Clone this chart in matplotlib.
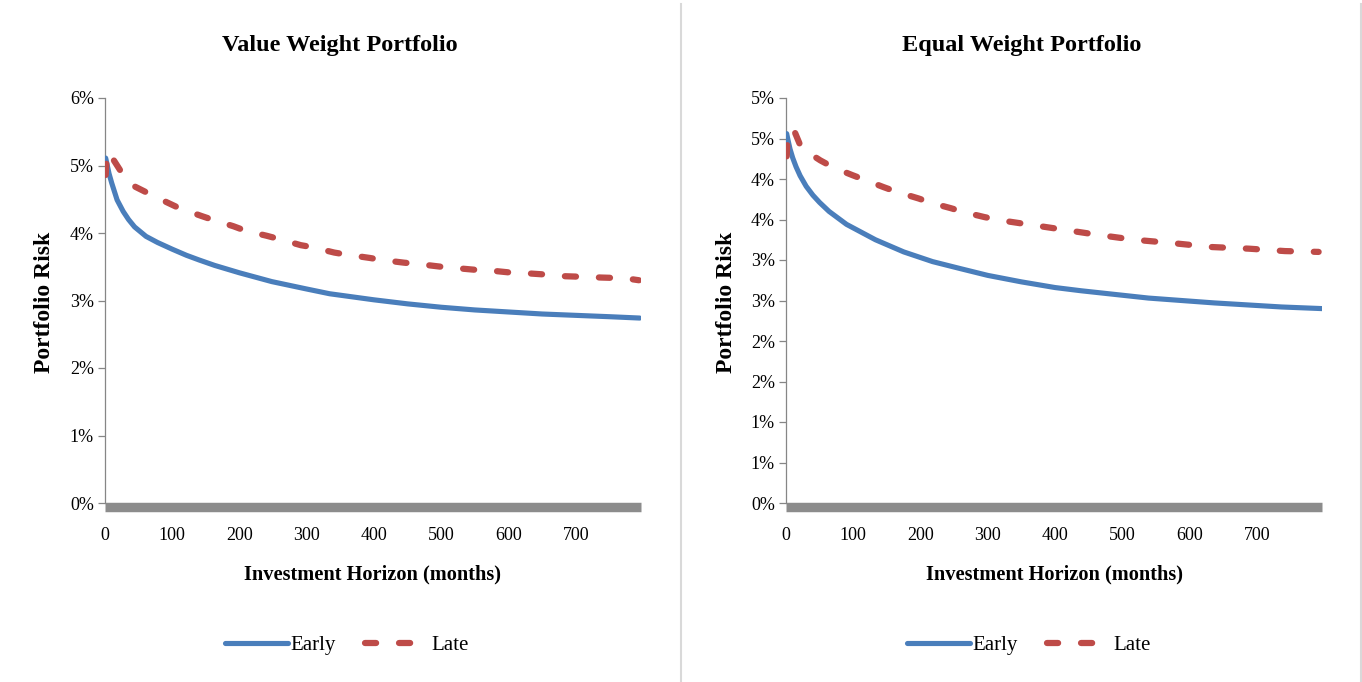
import numpy as np
import matplotlib
matplotlib.use("Agg")
import matplotlib.pyplot as plt
import matplotlib.transforms as mtransforms
from matplotlib.ticker import FuncFormatter, MultipleLocator
from matplotlib.lines import Line2D

plt.rcParams['font.family'] = ['Liberation Serif', 'DejaVu Serif']
plt.rcParams['lines.scale_dashes'] = False

# ---------------- data (portfolio risk, %) ----------------
titles = ["Value Weight Portfolio", "Equal Weight Portfolio"]
series_names = ["Early", "Late"]
x_ticks = [0, 100, 200, 300, 400, 500, 600, 700]

vw_early_months = [1, 3, 6, 10, 18, 27, 35, 44, 61, 78, 100, 121, 140, 163, 200, 248, 300, 334,
                   400, 450, 500, 550, 600, 650, 700, 750, 795]
vw_early_risk = [5.11, 5.02, 4.88, 4.74, 4.49, 4.32, 4.20, 4.09, 3.95, 3.86, 3.76, 3.67, 3.60,
                 3.52, 3.41, 3.28, 3.17, 3.10, 3.01, 2.95, 2.90, 2.86, 2.83, 2.80, 2.78, 2.76, 2.74]

vw_late_months = [1, 3, 11, 27, 44, 68, 93, 110, 144, 162, 191, 210, 240, 259, 291, 308, 341,
                  359, 394, 412, 445, 466, 500, 522, 556, 577, 607, 632, 662, 683, 713, 738,
                  773, 794]
vw_late_risk = [4.86, 5.20, 5.11, 4.86, 4.69, 4.57, 4.45, 4.37, 4.25, 4.19, 4.10, 4.03, 3.96,
                3.91, 3.82, 3.79, 3.71, 3.68, 3.63, 3.60, 3.56, 3.54, 3.50, 3.48, 3.45, 3.44,
                3.41, 3.40, 3.38, 3.36, 3.35, 3.34, 3.33, 3.30]

ew_early_months = [1, 3, 6, 10, 15, 21, 30, 40, 50, 64, 90, 133, 175, 218, 261, 300, 350, 400,
                   439, 539, 637, 737, 797]
ew_early_risk = [4.56, 4.48, 4.37, 4.26, 4.15, 4.04, 3.91, 3.80, 3.71, 3.60, 3.44, 3.25, 3.10,
                 2.98, 2.89, 2.81, 2.73, 2.66, 2.62, 2.53, 2.47, 2.42, 2.40]

ew_late_months = [1, 3, 13, 23, 51, 71, 98, 120, 145, 165, 197, 218, 245, 265, 295, 319, 400,
                  464, 518, 573, 633, 688, 742, 792]
ew_late_risk = [4.28, 4.60, 4.58, 4.38, 4.23, 4.14, 4.05, 3.98, 3.90, 3.84, 3.76, 3.70, 3.64,
                3.59, 3.53, 3.49, 3.39, 3.31, 3.25, 3.21, 3.16, 3.14, 3.11, 3.10]

panels = [
    (titles[0], vw_early_months, vw_early_risk, vw_late_months, vw_late_risk, 6.0, 1.0),
    (titles[1], ew_early_months, ew_early_risk, ew_late_months, ew_late_risk, 5.0, 0.5),
]

# ---------------- styling ----------------
W, H = 1362, 682
fig = plt.figure(figsize=(W / 100, H / 100), dpi=100)
blue = '#4a7ebb'
red = '#be4b48'
gray_axis = '#868686'
blue_lw, red_lw = 3.7, 4.5
red_dashes = (8, 16.5)

axes_px = [(105, 641), (786, 1322)]
chart_centers = [340, 1022]
top_px, bottom_px = 98, 503

def pct_fmt(v, pos):
    return f"{int(np.floor(v + 0.5 + 1e-9))}%"

for i, (title, em, er, lm, lr, ymax, ystep) in enumerate(panels):
    x0, x1 = axes_px[i]
    ax = fig.add_axes([x0 / W, 1 - bottom_px / H, (x1 - x0) / W, (bottom_px - top_px) / H])
    ax.plot(em, er, color=blue, lw=blue_lw, solid_capstyle='round', solid_joinstyle='round',
            label=series_names[0], zorder=3)
    ax.plot(lm, lr, color=red, lw=red_lw, dash_capstyle='round', dash_joinstyle='round',
            dashes=red_dashes, label=series_names[1], zorder=3)
    ax.set_xlim(0, 797)
    ax.set_ylim(0, ymax)
    ax.yaxis.set_major_locator(MultipleLocator(ystep))
    ax.yaxis.set_major_formatter(FuncFormatter(pct_fmt))
    ax.set_xticks(x_ticks)
    ax.set_xticklabels([str(t) for t in x_ticks])

    for s in ['top', 'right', 'bottom']:
        ax.spines[s].set_visible(False)
    ax.spines['left'].set_color(gray_axis)
    ax.spines['left'].set_linewidth(0.9)

    # thick gray zero bar
    trans = mtransforms.offset_copy(ax.transData, fig=fig, x=0, y=-3.5, units='dots')
    ax.plot([0, 797], [0, 0], color='#8c8c8c', lw=6.8, solid_capstyle='butt',
            transform=trans, clip_on=False, zorder=2)

    ax.tick_params(axis='y', direction='out', length=5, width=0.9, color=gray_axis,
                   labelsize=13, pad=3, labelcolor='black')
    ax.tick_params(axis='x', length=0, labelsize=13, pad=17, labelcolor='black')

    ax.set_xlabel("Investment Horizon (months)", fontsize=14.7, fontweight='bold', labelpad=15)
    fig.text((x0 - 60) / W, 1 - 302 / H, "Portfolio Risk", rotation=90, fontsize=17,
             fontweight='bold', ha='center', va='center')
    fig.text(chart_centers[i] / W, 1 - 45 / H, title, fontsize=17.5, fontweight='bold',
             ha='center', va='center')

    handles = [Line2D([], [], color=blue, lw=blue_lw, solid_capstyle='round'),
               Line2D([], [], color=red, lw=red_lw, dash_capstyle='round', dashes=red_dashes)]
    fig.legend(handles, series_names, loc='center', ncol=2,
               bbox_to_anchor=(chart_centers[i] / W + 0.005, 1 - 645 / H),
               frameon=False, fontsize=15, handlelength=3.0, columnspacing=1.4,
               handletextpad=0.15)

# chart-area separators
fig.add_artist(Line2D([681 / W, 681 / W], [0, 1 - 4 / H], color='#d9d9d9', lw=1.5))
fig.add_artist(Line2D([1361 / W, 1361 / W], [0, 1 - 4 / H], color='#d9d9d9', lw=1.5))

fig.savefig("out.png", dpi=100)
